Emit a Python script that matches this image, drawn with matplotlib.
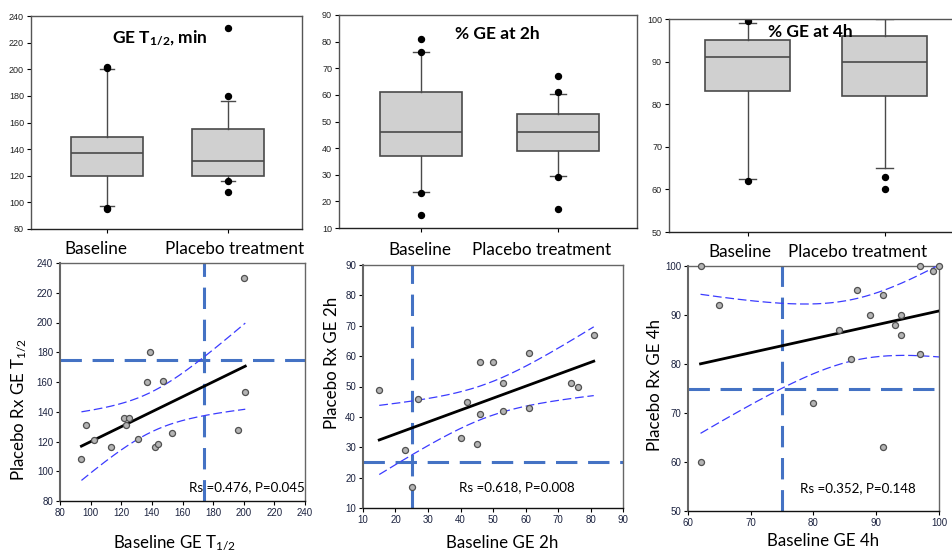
import numpy as np
import matplotlib
matplotlib.use("Agg")
import matplotlib.pyplot as plt

plt.rcParams['font.family'] = ['Lato', 'DejaVu Sans']
plt.rcParams['mathtext.fontset'] = 'custom'
plt.rcParams['mathtext.rm'] = 'Lato'
plt.rcParams['mathtext.it'] = 'Lato:italic'
plt.rcParams['mathtext.bf'] = 'Lato:bold'

# ---------------- data ----------------
groups = ["Baseline", "Placebo treatment"]

# Box plot statistics
t_half_stats = [
    dict(med=137, q1=120, q3=149, whislo=97.5, whishi=200, fliers=[95, 96, 201, 202]),
    dict(med=131, q1=120, q3=155, whislo=116, whishi=176, fliers=[116, 108, 180, 231]),
]
ge2h_stats = [
    dict(med=46, q1=37, q3=61, whislo=23.5, whishi=76, fliers=[23, 15, 76, 81]),
    dict(med=46, q1=39, q3=53, whislo=29.5, whishi=60.5, fliers=[29, 17, 61, 67]),
]
ge4h_stats = [
    dict(med=91, q1=83, q3=95, whislo=62.5, whishi=99, fliers=[62, 99.5, 100]),
    dict(med=90, q1=82, q3=96, whislo=65, whishi=100, fliers=[63, 60]),
]

# Scatter data: baseline vs placebo
thalf_base = [94, 97, 102, 113, 122, 125, 123, 131, 137, 139, 142, 144, 147, 153, 196, 200, 201]
thalf_plac = [108, 131, 121, 116, 136, 136, 131, 122, 160, 180, 116, 118, 161, 126, 128, 230, 153]

ge2h_base = [15, 23, 25, 27, 40, 42, 45, 46, 46, 50, 53, 53, 61, 61, 74, 76, 81]
ge2h_plac = [49, 29, 17, 46, 33, 45, 31, 58, 41, 58, 51, 42, 61, 43, 51, 50, 67]

ge4h_base = [62, 65, 62, 80, 84, 86, 87, 89, 91, 91, 93, 94, 94, 97, 97, 99, 100]
ge4h_plac = [100, 92, 60, 72, 87, 81, 95, 90, 94, 63, 88, 90, 86, 100, 82, 99, 100]

# reference (normal limit) lines
thalf_ref = (174, 175)
ge2h_ref = (25, 25)
ge4h_ref = (75, 75)

stats_text = ["Rs =0.476, P=0.045", "Rs =0.618, P=0.008", "Rs =0.352, P=0.148"]
T_CRIT = 2.131  # t(0.975, df=15)

# ---------------- figure ----------------
W, H = 953, 553
fig = plt.figure(figsize=(W / 100, H / 100), dpi=100)


def fa(l, t, r, b):
    return [l / W, (H - b) / H, (r - l) / W, (b - t) / H]


TICK_COLOR = '#1c2340'
BOX_FACE = '#d0d0d0'
BOX_EDGE = '#4a4a4a'


def box_panel(rect, stats, ylim, yticks, xlim, width, title, title_xy):
    ax = fig.add_axes(rect)
    ax.bxp(stats, positions=[1, 2], widths=width, patch_artist=True,
           boxprops=dict(facecolor=BOX_FACE, edgecolor=BOX_EDGE, linewidth=1.2),
           medianprops=dict(color=BOX_EDGE, linewidth=1.2),
           whiskerprops=dict(color=BOX_EDGE, linewidth=1.0),
           capprops=dict(color=BOX_EDGE, linewidth=1.0),
           capwidths=0.12,
           flierprops=dict(marker='o', markerfacecolor='black', markeredgecolor='black',
                           markersize=4.3, linestyle='none'))
    ax.set_xlim(*xlim)
    ax.set_ylim(*ylim)
    ax.set_yticks(yticks)
    ax.set_xticks([1, 2])
    ax.set_xticklabels([])
    ax.tick_params(axis='both', direction='out', length=3, width=0.8, labelsize=6.5,
                   labelcolor='#222222', pad=2)
    for lab in ax.get_yticklabels():
        lab.set_family('Liberation Sans')
    for s in ax.spines.values():
        s.set_color('#555555')
        s.set_linewidth(1.0)
    ax.spines['bottom'].set_color('#222222')
    ax.text(title_xy[0], title_xy[1], title, transform=ax.transAxes, ha='center',
            va='center', fontsize=12.5, fontweight='bold')
    return ax


# top-left
box_panel(fa(31, 16, 302, 229), t_half_stats, (80, 240), range(80, 241, 20),
          (0.372, 2.61), 0.60, r"GE T$_{\mathbf{1/2}}$, min", (0.475, 0.9))
# top-middle
box_panel(fa(339, 15, 637, 228), ge2h_stats, (10, 90), range(10, 91, 10),
          (0.40, 2.58), 0.60, "% GE at 2h", (0.53, 0.91))
# top-right
box_panel(fa(669, 19, 960, 232), ge4h_stats, (50, 100), range(50, 101, 10),
          (0.427, 2.55), 0.62, "% GE at 4h", (0.485, 0.94))

# group labels under boxes
for xs, y in [((96, 235), 249), ((420, 542), 250), ((740, 858), 252)]:
    for x, g in zip(xs, groups):
        fig.text(x / W, 1 - y / H, g, ha='center', va='center', fontsize=12.3)


def scatter_panel(rect, x, y, lim, ticks, ref, txt, txt_xy, xlabel, ylabel,
                  xl_xy, yl_xy):
    ax = fig.add_axes(rect)
    x = np.asarray(x, float)
    y = np.asarray(y, float)
    ax.set_xlim(*lim[0])
    ax.set_ylim(*lim[1])
    ax.set_xticks(ticks[0])
    ax.set_yticks(ticks[1])
    # reference lines
    ax.axvline(ref[0], color='#4472c4', lw=2.2, dashes=(7, 3.5), zorder=1)
    ax.axhline(ref[1], color='#4472c4', lw=2.2, dashes=(7, 3.5), zorder=1)
    # regression and 95% CI
    b, a = np.polyfit(x, y, 1)
    n = len(x)
    resid = y - (a + b * x)
    s = np.sqrt(np.sum(resid ** 2) / (n - 2))
    sxx = np.sum((x - x.mean()) ** 2)
    xs = np.linspace(x.min(), x.max(), 200)
    yh = a + b * xs
    half = T_CRIT * s * np.sqrt(1 / n + (xs - x.mean()) ** 2 / sxx)
    ax.plot(xs, yh, color='black', lw=2.0, zorder=3)
    ax.plot(xs, yh + half, color='#3b3bff', lw=0.9, dashes=(7, 3), zorder=3)
    ax.plot(xs, yh - half, color='#3b3bff', lw=0.9, dashes=(7, 3), zorder=3)
    ax.scatter(x, y, s=19, facecolor='#b4b4b4', edgecolor='#505050', linewidth=0.9,
               zorder=4, clip_on=False)
    ax.text(txt_xy[0], txt_xy[1], txt, fontsize=9.6, va='center', ha='left', zorder=5)
    ax.tick_params(axis='both', direction='out', length=3, width=0.8, labelsize=7,
                   labelcolor=TICK_COLOR, pad=2)
    for lab in ax.get_xticklabels() + ax.get_yticklabels():
        lab.set_family('Liberation Sans')
    for s_ in ax.spines.values():
        s_.set_color('#666666')
        s_.set_linewidth(1.0)
    ax.spines['bottom'].set_color('#111111')
    ax.spines['left'].set_linewidth(1.5)
    ax.set_xlabel(xlabel, fontsize=12.2)
    ax.set_ylabel(ylabel, fontsize=12.2)
    ax.xaxis.set_label_coords(*xl_xy)
    ax.yaxis.set_label_coords(*yl_xy)
    ax.xaxis.label.set_va('center')
    ax.yaxis.label.set_va('center')
    return ax


scatter_panel(fa(60, 263, 305, 501), thalf_base, thalf_plac,
              ((80, 240), (80, 240)), (range(80, 241, 20), range(80, 241, 20)),
              thalf_ref, stats_text[0], (164, 89.6),
              r"Baseline GE T$_{1/2}$", r"Placebo Rx GE T$_{1/2}$",
              (0.469, -0.176), (-0.171, 0.386))
scatter_panel(fa(363, 265, 623, 508), ge2h_base, ge2h_plac,
              ((10, 90), (10, 90)), (range(10, 91, 10), range(10, 91, 10)),
              ge2h_ref, stats_text[1], (39.6, 16.7),
              "Baseline GE 2h", "Placebo Rx GE 2h",
              (0.535, -0.144), (-0.119, 0.597))
scatter_panel(fa(688, 266, 939, 511), ge4h_base, ge4h_plac,
              ((60, 100), (50, 100)), (range(60, 101, 10), range(50, 101, 10)),
              ge4h_ref, stats_text[2], (77.8, 54.7),
              "Baseline GE 4h", "Placebo Rx GE 4h",
              (0.538, -0.122), (-0.131, 0.514))

fig.savefig("out.png", dpi=100)
